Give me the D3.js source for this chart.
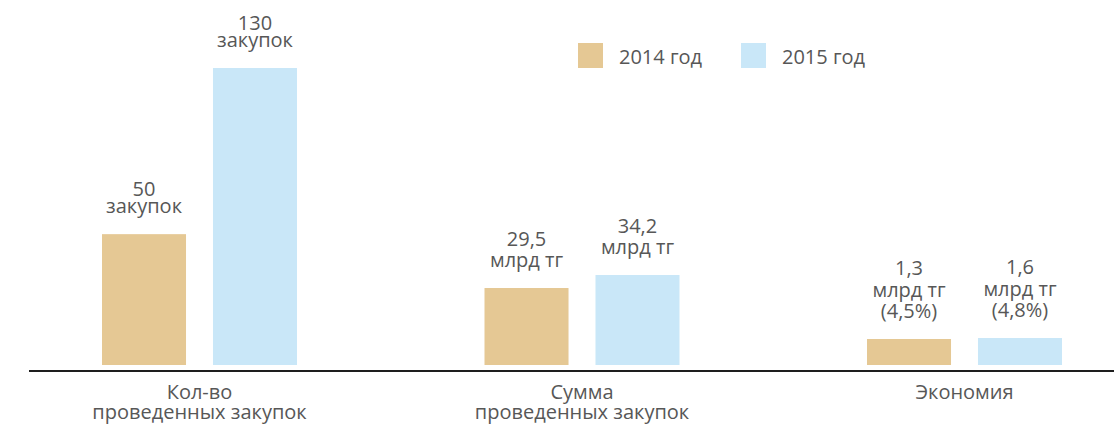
<!DOCTYPE html>
<html>
<head>
<meta charset="utf-8">
<script src="https://cdn.jsdelivr.net/npm/d3@7/dist/d3.min.js"></script>
<style>
  html, body { margin: 0; padding: 0; background: #fff; }
  svg { display: block; }
  text { font-family: "Open Sans", "Noto Sans", sans-serif; fill: #575757; }
</style>
</head>
<body>
<svg id="chart" width="1114" height="424"></svg>
<script>
// ---- DATA ----
const categories = ["Кол-во\nпроведенных закупок", "Сумма\nпроведенных закупок", "Экономия"];
const years = ["2014 год", "2015 год"];
const values2014 = [50, 29.5, 1.3];
const values2015 = [130, 34.2, 1.6];
const units = ["закупок", "млрд тг", "млрд тг"];
const share2014 = [null, null, 4.5];
const share2015 = [null, null, 4.8];

// ---- LAYOUT / STYLE ----
const W = 1114, H = 424;
const colors = ["#e5c894", "#c9e7f8"];
const baseY = 365;              // bottom of bars
const axisY = 371;
const groupScaleFloor = [-13, 1.7, -6.5];   // per-group value-axis floor (independent units)
const groupScaleTopY = [68, 275, 338];      // y of each group's max value
const labelLineH = [17, 21.5, 21.5];
const labelGap = 21;
const fontSize = 20;

const svg = d3.select("#chart");

const x = d3.scalePoint().domain(categories).range([199.5, 964.5]);
const xi = d3.scaleBand().domain(years).range([-97.5, 97.5]).paddingInner(0.243);

const locale = d3.formatLocale({decimal: ",", thousands: " ", grouping: [3], currency: ["", ""]});
const fmt = locale.format("~g");

const seriesVals = [values2014, values2015];
const seriesShare = [share2014, share2015];

categories.forEach((cat, gi) => {
  const groupMax = Math.max(values2014[gi], values2015[gi]);
  const y = d3.scaleLinear().domain([groupScaleFloor[gi], groupMax]).range([baseY, groupScaleTopY[gi]]);
  const g = svg.append("g").attr("transform", `translate(${x(cat)},0)`);
  years.forEach((yr, si) => {
    const v = seriesVals[si][gi];
    const top = y(v);
    g.append("rect")
      .attr("x", xi(yr))
      .attr("y", top)
      .attr("width", xi.bandwidth())
      .attr("height", y(groupScaleFloor[gi]) - top)
      .attr("fill", colors[si]);
    const lines = [fmt(v), units[gi]];
    const sh = seriesShare[si][gi];
    if (sh != null) lines.push("(" + fmt(sh) + "%)");
    const cx = xi(yr) + xi.bandwidth() / 2;
    const lastBase = top - labelGap;
    lines.forEach((ln, li) => {
      g.append("text")
        .attr("x", cx)
        .attr("y", lastBase - (lines.length - 1 - li) * labelLineH[gi])
        .attr("text-anchor", "middle")
        .style("font-size", fontSize + "px")
        .text(ln);
    });
  });
  // category label
  cat.split("\n").forEach((ln, li) => {
    g.append("text")
      .attr("x", 0)
      .attr("y", 398.5 + li * 20)
      .attr("text-anchor", "middle")
      .style("font-size", fontSize + "px")
      .text(ln);
  });
});

// baseline axis
svg.append("line")
  .attr("x1", 29).attr("x2", W)
  .attr("y1", axisY).attr("y2", axisY)
  .attr("stroke", "#1e1e1e").attr("stroke-width", 2);

// legend
const legendX = d3.scalePoint().domain(years).range([578, 741]);
years.forEach((yr, si) => {
  const lg = svg.append("g").attr("transform", `translate(${legendX(yr)},43)`);
  lg.append("rect").attr("width", 25).attr("height", 25).attr("fill", colors[si]);
  lg.append("text").attr("x", 41).attr("y", 20.5).style("font-size", fontSize + "px").text(yr);
});
</script>
</body>
</html>
